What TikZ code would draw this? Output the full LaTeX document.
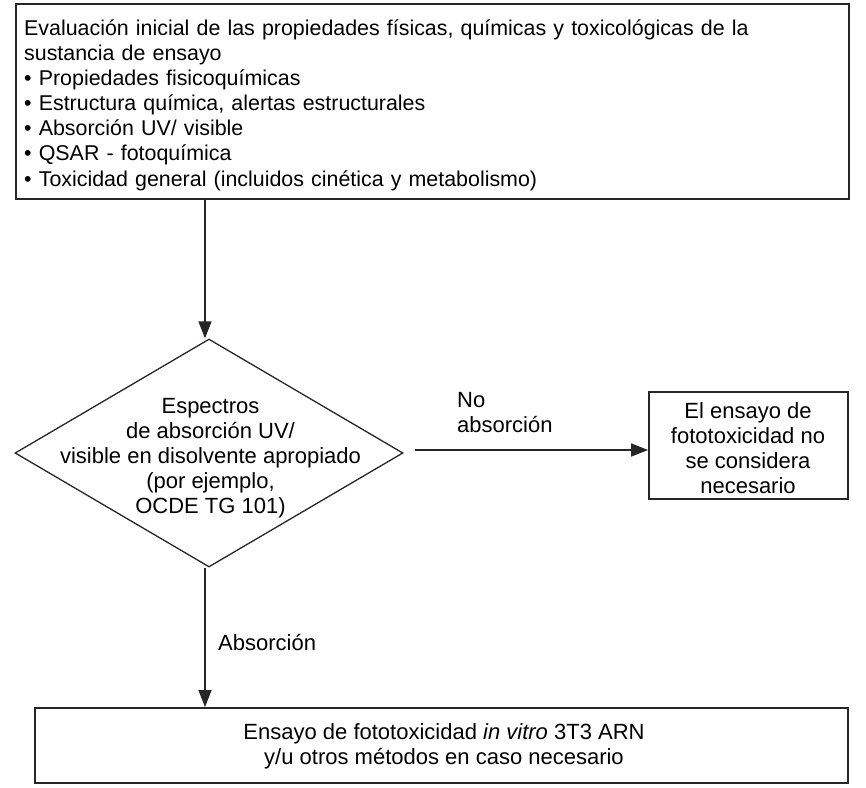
\documentclass[tikz,border=0pt]{standalone}
\usepackage{fontspec}
\setmainfont{Liberation Sans}
\usetikzlibrary{shapes.geometric,arrows.meta}
\tikzset{
  box/.style={draw=black!85, line width=1.8pt, rectangle, inner sep=0pt},
  conn/.style={line width=1.3pt, draw=black!85, -{Triangle[length=17pt,width=13pt]}},
  lbl/.style={inner sep=0pt, align=left},
  ctext/.style={inner sep=0pt, align=center},
}
\begin{document}
\begin{tikzpicture}[x=1pt,y=-1pt, font=\fontsize{22}{25}\selectfont]
\useasboundingbox (0,0) rectangle (866,787);
% top box
\node[box, minimum width=833, minimum height=195] (top) at (432.5,101.5) {};
\node[lbl, anchor=north west, text width=820, font=\fontsize{21.4}{25.1}\selectfont] (toptext) at (24,19.5) {Evaluación inicial de las propiedades físicas, químicas y toxicológicas de la\\
sustancia de ensayo\\
• Propiedades fisicoquímicas\\
• Estructura química, alertas estructurales\\
• Absorción UV/ visible\\
• QSAR - fotoquímica\\
• Toxicidad general (incluidos cinética y metabolismo)};
% diamond
\node[diamond, draw=black!85, line width=1.3pt, minimum width=388, minimum height=228, inner sep=0pt] (dia) at (209,453) {};
\node[ctext] (diatext) at (210.5,458) {Espectros\\de absorción UV/\\visible en disolvente apropiado\\(por ejemplo,\\OCDE TG 101)};
% right box
\node[box, minimum width=199, minimum height=107] (right) at (748.5,445.5) {};
\node[ctext] (righttext) at (748,448) {El ensayo de\\fototoxicidad no\\se considera\\necesario};
% bottom box
\node[box, minimum width=813, minimum height=75] (bot) at (441.5,745.5) {};
\node[ctext] (bottext) at (444,746) {Ensayo de fototoxicidad \textit{in vitro} 3T3 ARN\\y/u otros métodos en caso necesario};
% connectors
\coordinate (a1) at (205,199);
\draw[conn] (top.south -| a1) -- (dia.north -| a1);
\coordinate (r0) at (415,450);
\draw[conn] (r0) -- (r0 -| right.west);
\coordinate (b0) at (205,567);
\draw[conn] (dia.south -| b0) -- (bot.north -| b0);
% labels
\node[lbl, anchor=north west] (noabs) at (457,392) {No\\absorción};
\node[lbl, anchor=base west] (abs) at (218,650) {Absorción};
\end{tikzpicture}
\end{document}
